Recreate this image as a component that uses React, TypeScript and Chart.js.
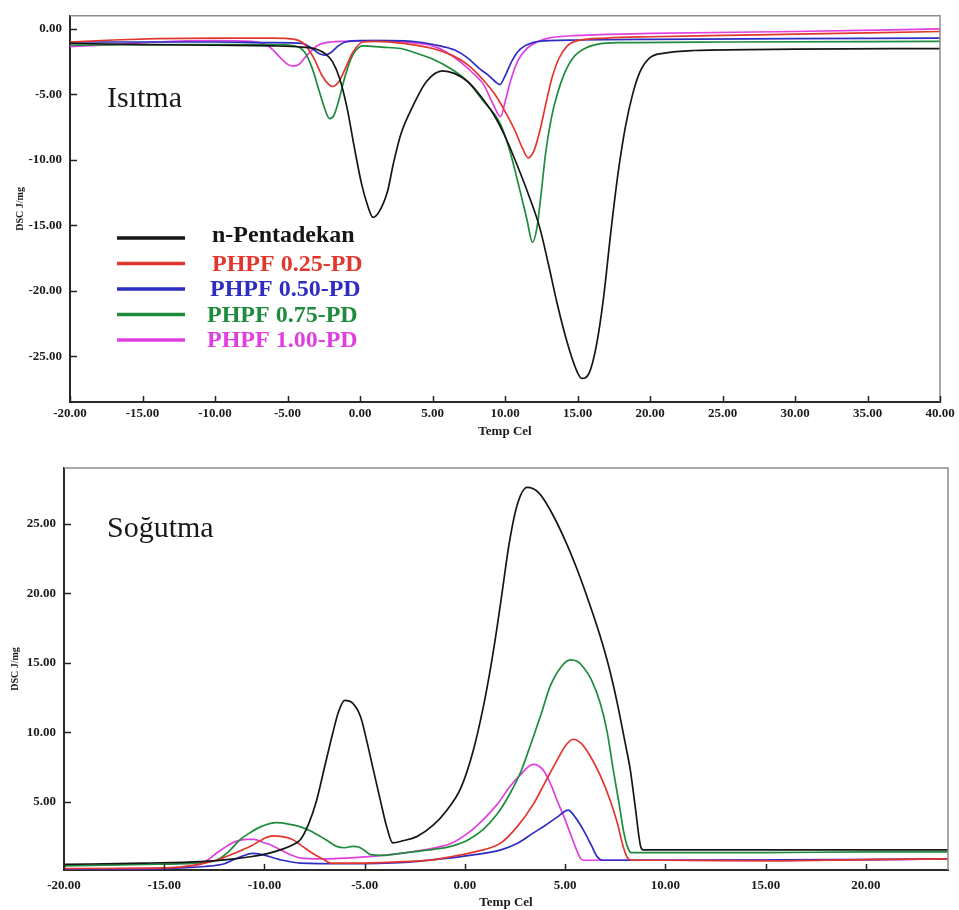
import React, { useEffect, useRef } from "react";
import { Chart, registerables } from "chart.js";

Chart.register(...registerables);

// ---------- shared ----------
const SERIES_LABELS = ["n-Pentadekan", "PHPF 0.25-PD", "PHPF 0.50-PD", "PHPF 0.75-PD", "PHPF 1.00-PD"];
const SERIES_COLORS = ["#161616", "#e2372f", "#2d2dc2", "#1e8b3d", "#e03fe0"];
const AXIS_X_TITLE = "Temp Cel";
const AXIS_Y_TITLE = "DSC J/mg";
const HEAT_LABEL = "Isıtma";
const COOL_LABEL = "Soğutma";

// ---------- heating (Isıtma) ----------
const HEAT_X_TICKS = [-20, -15, -10, -5, 0, 5, 10, 15, 20, 25, 30, 35, 40];
const HEAT_Y_TICKS = [0, -5, -10, -15, -20, -25];

const heatBlackT = [-20, -15, -10, -6, -4, -3, -2.4, -1.9, -1.4, -0.9, -0.4, 0.1, 0.5, 0.9, 1.3, 1.9, 2.3, 2.8, 3.6, 4.6, 5.7, 6.5, 7.4, 8.3, 9.2, 10, 10.8, 11.7, 12.4, 13.0, 13.6, 14.3, 14.9, 15.3, 15.8, 16.3, 16.8, 17.3, 17.8, 18.3, 18.8, 19.3, 20, 21, 23, 30, 40];
const heatBlackV = [-1.1, -1.2, -1.25, -1.3, -1.4, -1.55, -1.9, -2.5, -3.8, -6.0, -9.0, -11.8, -13.4, -14.4, -14.0, -12.4, -10.3, -8.1, -6.0, -4.0, -3.2, -3.4, -4.0, -5.1, -6.5, -8.2, -10.3, -12.9, -15.2, -18.0, -21.0, -24.0, -26.0, -26.7, -26.3, -24.2, -20.5, -15.5, -11.0, -7.5, -5.0, -3.3, -2.2, -1.85, -1.65, -1.55, -1.5];

const heatRedT = [-20, -17, -14, -10, -6, -4.5, -3.8, -3.2, -2.6, -2.2, -1.9, -1.5, -1.0, -0.5, 0.2, 1, 3, 5, 6.5, 7.5, 8.5, 9.3, 10, 10.7, 11.2, 11.6, 12.0, 12.4, 12.8, 13.2, 13.7, 14.3, 15, 17, 20, 25, 30, 40];
const heatRedV = [-1.0, -0.85, -0.75, -0.7, -0.7, -0.8, -1.2, -2.2, -3.6, -4.2, -4.4, -4.1, -3.0, -1.8, -1.0, -0.95, -1.1, -1.5, -2.1, -2.8, -3.9, -5.0, -6.3, -7.8, -9.1, -9.85, -9.3, -7.8, -5.8, -3.9, -2.3, -1.3, -0.9, -0.7, -0.6, -0.5, -0.4, -0.2];

const heatBlueT = [-20, -15, -10, -6, -4, -3.3, -2.8, -2.4, -2.0, -1.5, -1, 0, 2, 4, 5.5, 6.5, 7.4, 8.2, 8.8, 9.3, 9.65, 10.0, 10.5, 11.0, 11.9, 13, 15, 20, 30, 40];
const heatBlueV = [-1.0, -1.0, -1.0, -1.05, -1.1, -1.5, -1.9, -2.0, -1.8, -1.3, -1.0, -0.9, -0.9, -1.0, -1.3, -1.6, -2.2, -3.0, -3.5, -4.0, -4.25, -3.6, -2.4, -1.6, -1.05, -0.9, -0.85, -0.8, -0.75, -0.7];

const heatGreenT = [-20, -15, -10, -6, -4.5, -3.8, -3.3, -2.8, -2.4, -2.1, -1.8, -1.4, -1, -0.5, 0.2, 1.5, 2.8, 4, 5, 6.2, 7.4, 8.5, 9.65, 10.3, 11.0, 11.5, 11.9, 12.2, 12.5, 12.8, 13.2, 13.6, 14.1, 14.7, 15.5, 16.5, 18, 25, 40];
const heatGreenV = [-1.25, -1.2, -1.2, -1.2, -1.3, -1.8, -3.0, -4.8, -6.2, -6.85, -6.6, -5.2, -3.5, -2.0, -1.3, -1.4, -1.5, -1.9, -2.3, -3.0, -4.0, -5.5, -7.2, -9.2, -12.2, -14.5, -16.3, -15.2, -12.5, -9.5, -6.8, -5.0, -3.4, -2.2, -1.5, -1.15, -1.05, -1.0, -0.95];

const heatMagentaT = [-20, -17, -14, -10, -7.5, -6.5, -6, -5.5, -5, -4.6, -4.2, -3.8, -3.3, -2.8, -2, -1, 1, 3, 5, 6, 7, 8, 8.5, 9.2, 9.7, 10.0, 10.4, 10.9, 11.5, 12.2, 13, 15, 20, 30, 40];
const heatMagentaV = [-1.35, -1.2, -1.0, -0.9, -0.95, -1.2, -1.6, -2.2, -2.7, -2.85, -2.7, -2.2, -1.6, -1.2, -1.0, -0.95, -0.9, -1.0, -1.3, -1.8, -2.6, -3.6, -4.2, -5.8, -6.7, -5.6, -3.9, -2.4, -1.5, -1.0, -0.7, -0.5, -0.35, -0.2, 0.0];

// ---------- cooling (Soğutma) ----------
const COOL_X_TICKS = [-20, -15, -10, -5, 0, 5, 10, 15, 20];
const COOL_Y_TICKS = [5, 10, 15, 20, 25];

const coolBlackT = [-20, -16, -13.2, -11.5, -10.7, -9.8, -9.1, -8.6, -8.2, -7.8, -7.4, -7.0, -6.6, -6.3, -6.0, -5.6, -5.2, -4.9, -4.6, -4.2, -3.9, -3.6, -3.1, -2.4, -1.6, -0.9, -0.2, 0.4, 0.9, 1.3, 1.6, 1.9, 2.2, 2.6, 3.1, 3.7, 4.25, 5.0, 5.6, 6.2, 6.75, 7.2, 7.6, 8.0, 8.25, 8.5, 8.75, 8.9, 10, 15, 20, 24.1];
const coolBlackV = [0.5, 0.6, 0.7, 0.9, 1.05, 1.3, 1.6, 1.9, 2.3, 3.4, 5.1, 7.5, 9.9, 11.5, 12.3, 12.1, 11.1, 9.4, 7.5, 5.0, 3.2, 2.05, 2.2, 2.5, 3.3, 4.4, 6.0, 8.6, 11.7, 14.8, 17.5, 20.5, 23.5, 26.3, 27.6, 27.2, 26.0, 23.8, 21.7, 19.3, 16.9, 14.6, 12.1, 9.2, 7.3, 4.6, 1.9, 1.55, 1.55, 1.55, 1.55, 1.55];

const coolRedT = [-20, -17, -14.9, -13.5, -12.4, -11.5, -10.7, -10.1, -9.6, -9.1, -8.6, -8.1, -7.6, -7.1, -6.7, -5, -3, -1.5, -0.7, 0.5, 1.8, 2.6, 3.4, 4.0, 4.6, 5.0, 5.4, 5.8, 6.25, 6.75, 7.25, 7.6, 7.9, 8.1, 8.3, 10, 15, 20, 24.1];
const coolRedV = [0.2, 0.22, 0.25, 0.45, 0.8, 1.3, 1.8, 2.3, 2.55, 2.5, 2.3, 1.8, 1.3, 0.9, 0.6, 0.6, 0.7, 0.85, 1.05, 1.4, 2.05, 3.2, 4.8, 6.4, 8.0, 9.0, 9.5, 9.2, 8.3, 6.9, 5.1, 3.5, 1.77, 1.0, 0.8, 0.8, 0.75, 0.85, 0.9];

const coolBlueT = [-20, -15, -13, -12, -11.6, -11.1, -10.6, -10.1, -9.6, -9.1, -8.2, -6, -3, -0.7, 0.5, 1.8, 2.6, 3.4, 4.0, 4.6, 5.15, 5.5, 5.9, 6.3, 6.6, 6.9, 10, 15, 20, 24.1];
const coolBlueV = [0.15, 0.2, 0.35, 0.55, 0.8, 1.1, 1.3, 1.2, 1.0, 0.8, 0.6, 0.55, 0.65, 0.97, 1.2, 1.55, 2.0, 2.75, 3.3, 3.9, 4.4, 3.9, 3.0, 1.9, 1.05, 0.8, 0.8, 0.82, 0.85, 0.9];

const coolGreenT = [-20, -16, -13.5, -12.4, -11.8, -11.2, -10.7, -10.2, -9.4, -8.8, -8.2, -7.7, -7.2, -6.8, -6.4, -6.0, -5.6, -5.3, -5.0, -4.7, -4.1, -3.2, -1.5, -0.7, 0.2, 0.9, 1.6, 2.25, 2.8, 3.25, 3.8, 4.25, 4.8, 5.25, 5.6, 5.9, 6.3, 6.75, 7.1, 7.4, 7.7, 7.9, 8.1, 8.3, 10, 15, 20, 24.1];
const coolGreenV = [0.4, 0.5, 0.6, 0.8, 1.4, 2.3, 2.8, 3.2, 3.5, 3.4, 3.2, 2.9, 2.5, 2.15, 1.8, 1.7, 1.8, 1.75, 1.5, 1.2, 1.15, 1.3, 1.6, 1.8, 2.3, 3.0, 4.1, 5.6, 7.2, 9.0, 11.3, 13.3, 14.7, 15.2, 15.1, 14.7, 13.8, 12.1, 10.0, 7.3, 4.8, 3.0, 1.8, 1.35, 1.35, 1.35, 1.4, 1.4];

const coolMagentaT = [-20, -15, -13.2, -12.8, -12.4, -12.0, -11.6, -11.2, -10.9, -10.5, -10.1, -9.6, -9.2, -8.7, -8.2, -7.2, -5, -3.2, -1.5, -0.7, 0.2, 0.9, 1.6, 2.25, 2.8, 3.4, 3.9, 4.3, 4.6, 4.95, 5.25, 5.5, 5.75, 5.9, 10, 15, 20, 24.1];
const coolMagentaV = [0.15, 0.25, 0.5, 0.85, 1.3, 1.7, 2.05, 2.25, 2.3, 2.3, 2.1, 1.85, 1.55, 1.2, 0.95, 0.9, 1.05, 1.3, 1.7, 2.0, 2.8, 3.7, 4.8, 6.1, 7.0, 7.7, 7.3, 6.2, 5.1, 3.9, 2.75, 1.8, 0.97, 0.8, 0.8, 0.82, 0.85, 0.9];

const HEAT_SERIES = [
  [heatBlackT, heatBlackV],
  [heatRedT, heatRedV],
  [heatBlueT, heatBlueV],
  [heatGreenT, heatGreenV],
  [heatMagentaT, heatMagentaV],
];
const COOL_SERIES = [
  [coolBlackT, coolBlackV],
  [coolRedT, coolRedV],
  [coolBlueT, coolBlueV],
  [coolGreenT, coolGreenV],
  [coolMagentaT, coolMagentaV],
];

const SERIF = "'Liberation Serif', 'Times New Roman', serif";

function makeDatasets(series: number[][][]) {
  return series.map(([t, v], i) => ({
    label: SERIES_LABELS[i],
    data: t.map((x, k) => ({ x, y: v[k] })),
    borderColor: SERIES_COLORS[i],
    backgroundColor: SERIES_COLORS[i],
    borderWidth: 1.7,
    pointRadius: 0,
    fill: false,
    cubicInterpolationMode: "monotone" as const,
  }));
}

const framePlugin = {
  id: "dscFrame",
  afterDraw(chart: any, _args: any, opts: any) {
    const { ctx, chartArea } = chart;
    const { left, right, top, bottom } = chartArea;
    ctx.save();
    // top/right frame
    ctx.strokeStyle = "#8c8c8c";
    ctx.lineWidth = 1.5;
    ctx.beginPath();
    ctx.moveTo(left, top);
    ctx.lineTo(right, top);
    ctx.lineTo(right, bottom);
    ctx.stroke();
    // inner tick marks
    ctx.strokeStyle = "#222";
    ctx.lineWidth = 1.5;
    ctx.beginPath();
    const xs = chart.scales.x;
    xs.ticks.forEach((t: any) => {
      const px = Math.round(xs.getPixelForValue(t.value)) + 0.5;
      ctx.moveTo(px, bottom);
      ctx.lineTo(px, bottom - 6);
    });
    const ys = chart.scales.y;
    ys.ticks.forEach((t: any) => {
      const py = Math.round(ys.getPixelForValue(t.value)) + 0.5;
      ctx.moveTo(left, py);
      ctx.lineTo(left + 7, py);
    });
    ctx.stroke();
    // panel label
    if (opts && opts.text) {
      ctx.fillStyle = "#1a1a1a";
      ctx.font = `30px ${SERIF}`;
      ctx.textAlign = "left";
      ctx.textBaseline = "alphabetic";
      ctx.fillText(opts.text, opts.tx, opts.ty);
    }
    // legend
    if (opts && opts.legend) {
      const lg = opts.legend;
      chart.data.datasets.forEach((ds: any, i: number) => {
        const y = lg.y0 + i * lg.dy;
        ctx.strokeStyle = ds.borderColor;
        ctx.lineWidth = 3.5;
        ctx.beginPath();
        ctx.moveTo(lg.x0, y);
        ctx.lineTo(lg.x1, y);
        ctx.stroke();
        ctx.fillStyle = ds.borderColor;
        ctx.font = `bold 24px ${SERIF}`;
        ctx.textAlign = "left";
        ctx.textBaseline = "alphabetic";
        ctx.fillText(ds.label, lg.tx[i], y + (i === 0 ? 4 : 7));
      });
    }
    ctx.restore();
  },
};

function buildOptions(cfg: {
  xMin: number; xMax: number; yMin: number; yMax: number;
  xTicks: number[]; yTicks: number[];
  yWidth: number; xHeight: number;
  padTop: number; padRight: number;
  xLabelPad: number; yLabelPad: number;
  xTitlePadBottom: number; yTitlePadTop: number;
  frame: any;
}) {
  return {
    responsive: false,
    animation: false as const,
    events: [] as any[],
    layout: { padding: { top: cfg.padTop, right: cfg.padRight, left: 0, bottom: 0 } },
    plugins: {
      legend: { display: false },
      tooltip: { enabled: false },
      title: { display: false },
      dscFrame: cfg.frame,
    },
    scales: {
      x: {
        type: "linear" as const,
        min: cfg.xMin,
        max: cfg.xMax,
        afterFit: (s: any) => { s.height = cfg.xHeight; },
        afterBuildTicks: (s: any) => { s.ticks = cfg.xTicks.map((v) => ({ value: v })); },
        grid: { display: false, drawTicks: false },
        border: { display: true, color: "#2a2a2a", width: 2 },
        ticks: {
          autoSkip: false,
          maxRotation: 0,
          padding: cfg.xLabelPad,
          color: "#1a1a1a",
          font: { family: SERIF, size: 13, weight: "bold" as const },
          callback: (v: any) => Number(v).toFixed(2),
        },
        title: {
          display: true,
          text: AXIS_X_TITLE,
          color: "#1a1a1a",
          font: { family: SERIF, size: 13, weight: "bold" as const },
          padding: { top: 0, bottom: cfg.xTitlePadBottom },
        },
      },
      y: {
        type: "linear" as const,
        min: cfg.yMin,
        max: cfg.yMax,
        afterFit: (s: any) => { s.width = cfg.yWidth; },
        afterBuildTicks: (s: any) => { s.ticks = cfg.yTicks.map((v) => ({ value: v })); },
        grid: { display: false, drawTicks: false },
        border: { display: true, color: "#2a2a2a", width: 2 },
        ticks: {
          autoSkip: false,
          padding: cfg.yLabelPad,
          color: "#1a1a1a",
          font: { family: SERIF, size: 13, weight: "bold" as const },
          callback: (v: any) => Number(v).toFixed(2),
        },
        title: {
          display: true,
          text: AXIS_Y_TITLE,
          color: "#1a1a1a",
          font: { family: SERIF, size: 10, weight: "bold" as const },
          padding: { top: cfg.yTitlePadTop, bottom: 0 },
        },
      },
    },
  };
}

export default function App() {
  const heatRef = useRef<HTMLCanvasElement | null>(null);
  const coolRef = useRef<HTMLCanvasElement | null>(null);

  useEffect(() => {
    const charts: Chart[] = [];
    if (heatRef.current) {
      charts.push(
        new Chart(heatRef.current, {
          type: "line",
          data: { datasets: makeDatasets(HEAT_SERIES) as any },
          options: buildOptions({
            xMin: -20, xMax: 40, yMin: -28.5, yMax: 1.0,
            xTicks: HEAT_X_TICKS, yTicks: HEAT_Y_TICKS,
            yWidth: 70, xHeight: 38, padTop: 7, padRight: 19,
            xLabelPad: 4, yLabelPad: 8,
            xTitlePadBottom: 1, yTitlePadTop: 14,
            frame: {
              text: HEAT_LABEL, tx: 107, ty: 107,
              legend: { x0: 117, x1: 185, y0: 238, dy: 25.5, tx: [212, 212, 210, 207, 207] },
            },
          }) as any,
          plugins: [framePlugin],
        })
      );
    }
    if (coolRef.current) {
      charts.push(
        new Chart(coolRef.current, {
          type: "line",
          data: { datasets: makeDatasets(COOL_SERIES) as any },
          options: buildOptions({
            xMin: -20, xMax: 24.1, yMin: 0.1, yMax: 29.0,
            xTicks: COOL_X_TICKS, yTicks: COOL_Y_TICKS,
            yWidth: 64, xHeight: 40, padTop: 28, padRight: 11,
            xLabelPad: 8, yLabelPad: 8,
            xTitlePadBottom: 0, yTitlePadTop: 9,
            frame: { text: COOL_LABEL, tx: 107, ty: 97 },
          }) as any,
          plugins: [framePlugin],
        })
      );
    }
    return () => charts.forEach((c) => c.destroy());
  }, []);

  return (
    <div style={{ position: "absolute", left: 0, top: 0, width: 959, height: 910, background: "#fff" }}>
      <canvas ref={heatRef} width={959} height={440} style={{ position: "absolute", left: 0, top: 0, width: 959, height: 440 }} />
      <canvas ref={coolRef} width={959} height={470} style={{ position: "absolute", left: 0, top: 440, width: 959, height: 470 }} />
    </div>
  );
}
